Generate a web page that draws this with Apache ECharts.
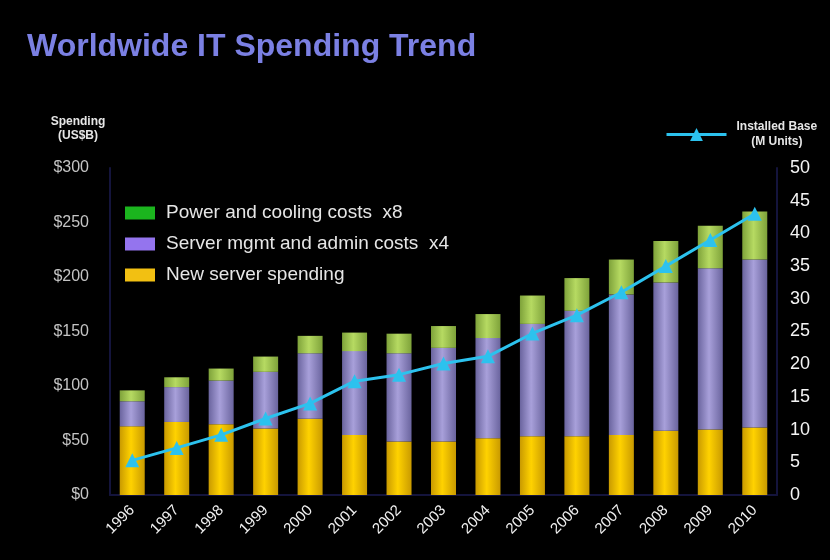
<!DOCTYPE html>
<html>
<head>
<meta charset="utf-8">
<script src="https://cdn.jsdelivr.net/npm/echarts@6/dist/echarts.min.js"></script>
<style>
  html, body { margin: 0; padding: 0; background: #000; }
  #chart { width: 830px; height: 560px; }
</style>
</head>
<body>
<div id="chart"></div>
<script>
// data
var years = ['1996','1997','1998','1999','2000','2001','2002','2003','2004','2005','2006','2007','2008','2009','2010'];
var newServer = [63, 67, 65, 61, 70, 55, 49, 49, 52, 54, 54, 55, 59, 60, 62];
var mgmtAdmin = [23, 32, 40, 52, 60, 77, 81, 86, 92, 103, 115, 129, 136, 148, 154];
var powerCooling = [10, 9, 11, 14, 16, 17, 18, 20, 22, 26, 30, 32, 38, 39, 44];
var installedBase = [5.3, 7.2, 9.2, 11.7, 14, 17.4, 18.4, 20.1, 21.2, 24.7, 27.5, 31, 35, 39, 43];

var font = 'Liberation Sans, Arial, sans-serif';
var narrow = 'Liberation Sans Narrow, Arial, sans-serif';

function barFill(edge, mid) {
    return new echarts.graphic.LinearGradient(0, 0, 1, 0, [
        { offset: 0, color: edge },
        { offset: 0.45, color: mid },
        { offset: 1, color: edge }
    ]);
}

var chart = echarts.init(document.getElementById('chart'));
var option = {
    backgroundColor: '#000',
    animation: false,
    textStyle: { fontFamily: font },
    title: {
        text: 'Worldwide IT Spending Trend',
        left: 22,
        top: 26,
        textStyle: { color: '#7b80e3', fontSize: 32, fontWeight: 'bold', fontFamily: font }
    },
    legend: [{
        orient: 'vertical',
        left: 120,
        top: 198,
        itemWidth: 30,
        itemHeight: 13,
        itemGap: 11,
        selectedMode: false,
        textStyle: { color: '#e6e6e6', fontSize: 19, lineHeight: 20, fontFamily: font, padding: [0, 0, 0, 6] },
        data: [
            { name: 'Power and cooling costs  x8', icon: 'rect', itemStyle: { color: '#1bb51e' } },
            { name: 'Server mgmt and admin costs  x4', icon: 'rect', itemStyle: { color: '#9474ee' } },
            { name: 'New server spending', icon: 'rect', itemStyle: { color: '#f2c012' } }
        ]
    }, {
        left: 660,
        top: 116,
        itemWidth: 60,
        itemHeight: 16,
        selectedMode: false,
        data: [{ name: 'Installed Base', lineStyle: { width: 3 } }],
        formatter: function () { return '{a|Installed Base}\n{b|(M Units)}'; },
        textStyle: {
            color: '#e6e6e6',
            padding: [0, 0, 0, 5],
            rich: {
                a: { fontSize: 12, fontWeight: 'bold', color: '#e6e6e6', lineHeight: 15, fontFamily: narrow },
                b: { fontSize: 12, fontWeight: 'bold', color: '#e6e6e6', lineHeight: 15, align: 'center', fontFamily: narrow }
            }
        }
    }],
    grid: { left: 110, right: 53, top: 168, bottom: 65 },
    xAxis: {
        type: 'category',
        data: years,
        axisLine: { lineStyle: { color: '#14143c', width: 2 } },
        axisTick: { show: false },
        axisLabel: { color: '#f0f0f0', fontSize: 15, rotate: 45, margin: 13, interval: 0 }
    },
    yAxis: [{
        type: 'value',
        min: 0,
        max: 300,
        interval: 50,
        name: 'Spending\n(US$B)',
        nameLocation: 'end',
        nameGap: 25,
        nameTextStyle: { color: '#e6e6e6', fontSize: 12, fontWeight: 'bold', lineHeight: 14, fontFamily: narrow, align: 'center', padding: [0, 64, 0, 0] },
        axisLine: { show: true, lineStyle: { color: '#14143c', width: 2 } },
        axisTick: { show: false },
        splitLine: { show: false },
        axisLabel: { color: '#c4c4c4', fontSize: 16, margin: 21, formatter: '${value}' }
    }, {
        type: 'value',
        min: 0,
        max: 50,
        interval: 5,
        position: 'right',
        axisLine: { show: true, lineStyle: { color: '#14143c', width: 2 } },
        axisTick: { show: false },
        splitLine: { show: false },
        axisLabel: { color: '#f4f4f4', fontSize: 18, margin: 13 }
    }],
    series: [{
        name: 'New server spending',
        type: 'bar',
        stack: 'spend',
        barWidth: 25,
        data: newServer,
        itemStyle: { color: barFill('#c99a00', '#ffd200') }
    }, {
        name: 'Server mgmt and admin costs  x4',
        type: 'bar',
        stack: 'spend',
        data: mgmtAdmin,
        itemStyle: { color: barFill('#6a649e', '#a8a0da') }
    }, {
        name: 'Power and cooling costs  x8',
        type: 'bar',
        stack: 'spend',
        data: powerCooling,
        itemStyle: { color: barFill('#7ea23a', '#b6da62') }
    }, {
        name: 'Installed Base',
        type: 'line',
        yAxisIndex: 1,
        data: installedBase,
        symbol: 'triangle',
        symbolSize: 14,
        lineStyle: { color: '#2cc2ee', width: 3 },
        itemStyle: { color: '#2cc2ee' }
    }]
};
chart.setOption(option);
</script>
</body>
</html>
